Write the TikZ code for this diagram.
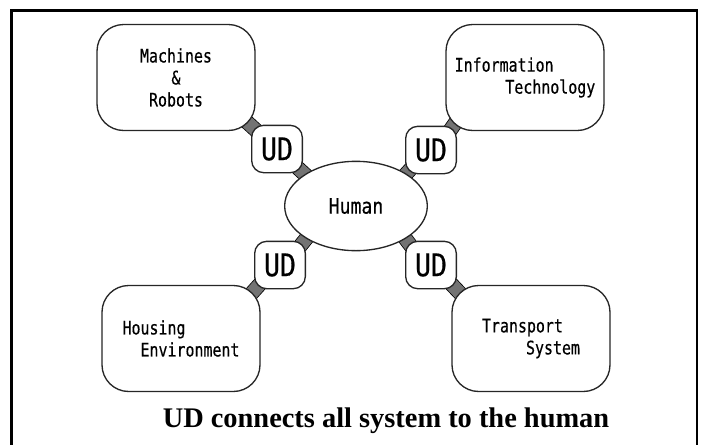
\documentclass[tikz,border=0pt]{standalone}
\usepackage{fontspec}
\setmainfont{Liberation Serif}
\newfontfamily\gothic[FakeStretch=0.8,FakeBold=0.4]{DejaVu Sans Mono}
\newfontfamily\udfont[FakeStretch=0.85,FakeBold=0.4]{DejaVu Sans Mono}
\usetikzlibrary{shapes,calc}
\pgfdeclarelayer{back}
\pgfsetlayers{back,main}

\tikzset{
  sysbox/.style={draw=black!85, line width=1pt, fill=white, rounded corners=20pt,
    minimum width=118.5pt, minimum height=79.5pt, inner sep=0pt,
    font=\gothic\fontsize{14pt}{16.5pt}\selectfont},
  udbox/.style={draw=black!85, line width=1pt, fill=white, rounded corners=9pt,
    minimum width=38pt, minimum height=35.5pt, inner sep=0pt,
    font=\udfont\fontsize{23.4pt}{24pt}\selectfont},
  humnode/.style={ellipse, draw=black!85, line width=1pt, fill=white,
    minimum width=107pt, minimum height=67pt, inner sep=0pt,
    font=\udfont\fontsize{16pt}{18pt}\selectfont},
  udlink/.style={line width=0.6pt, draw=black, double=black!55, double distance=10pt}
}

\begin{document}
\begin{tikzpicture}[x=0.75pt,y=0.75pt,yscale=-1,xscale=1]
    \useasboundingbox (0,0) rectangle (701,444);

    %Frame
    \draw [line width=1.6pt] (11.5,446) -- (11.5,10.5) -- (697,10.5) -- (697,446) ;

    %Centre
    \node [humnode] (hum) at (356,206) {Human};

    %UD boxes
    \node [udbox] (udA) at (277,149) {UD};
    \node [udbox] (udB) at (431,150) {UD};
    \node [udbox] (udC) at (280,265) {UD};
    \node [udbox] (udD) at (431,265) {UD};

    %Systems
    \node [sysbox, align=center] (mach) at (176,77.5) {Machines\\\&\\Robots};
    \node [sysbox, align=left] (info) at (525,77.5) {Information\\\hspace*{38pt}Technology};
    \node [sysbox, align=left] (hous) at (181,338.5) {Housing\\\hspace*{13.5pt}Environment};
    \node [sysbox, align=left] (trans) at (531,338.5) {Transport\\\hspace*{33pt}System};

    %Links
    \begin{pgfonlayer}{back}
    \draw [udlink] ([shift={(-14,-14)}]mach.south east) -- ([shift={(12,12)}]udA.north west) ;
    \draw [udlink] ([shift={(-8,-8)}]udA.south east) -- ([shift={(8,8)}]hum.north west) ;
    \draw [udlink] ([shift={(14,-14)}]info.south west) -- ([shift={(-12,12)}]udB.north east) ;
    \draw [udlink] ([shift={(8,-8)}]udB.south west) -- ([shift={(-8,8)}]hum.north east) ;
    \draw [udlink] ([shift={(-14,14)}]hous.north east) -- ([shift={(12,-12)}]udC.south west) ;
    \draw [udlink] ([shift={(-8,8)}]udC.north east) -- ([shift={(8,-8)}]hum.south west) ;
    \draw [udlink] ([shift={(14,14)}]trans.north west) -- ([shift={(-12,-12)}]udD.south east) ;
    \draw [udlink] ([shift={(8,8)}]udD.north west) -- ([shift={(-8,-8)}]hum.south east) ;
    \end{pgfonlayer}

    %Caption
    \node [anchor=base, font=\bfseries\fontsize{21.3pt}{24pt}\selectfont] (cap) at (386,427) {UD connects all system to the human};

\end{tikzpicture}
\end{document}
